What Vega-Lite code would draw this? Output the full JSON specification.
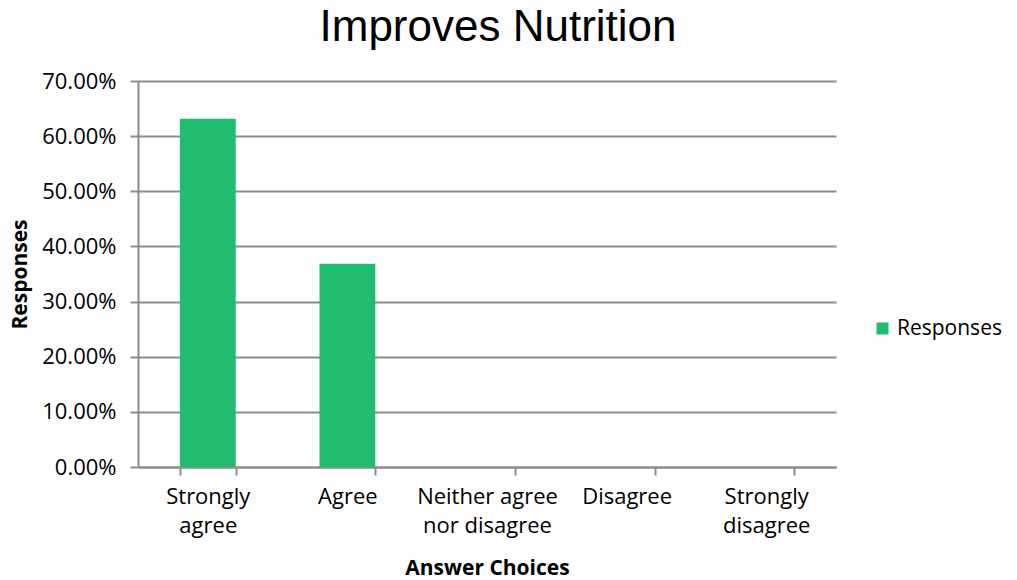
{
  "$schema": "https://vega.github.io/schema/vega-lite/v6.json",
  "width": 698,
  "height": 386,
  "autosize": {"type": "none"},
  "padding": {"left": 138, "top": 81, "right": 181, "bottom": 113},
  "background": "white",
  "title": {
    "text": "Improves Nutrition",
    "font": "Liberation Sans",
    "fontSize": 44,
    "fontWeight": "normal",
    "color": "#000000",
    "anchor": "middle",
    "dx": 11,
    "offset": 20
  },
  "data": {
    "values": [
      {"choice": "Strongly agree", "series": "Responses", "value": 0.6316},
      {"choice": "Agree", "series": "Responses", "value": 0.3684},
      {"choice": "Neither agree nor disagree", "series": "Responses", "value": 0},
      {"choice": "Disagree", "series": "Responses", "value": 0},
      {"choice": "Strongly disagree", "series": "Responses", "value": 0}
    ]
  },
  "mark": {"type": "bar"},
  "encoding": {
    "x": {
      "field": "choice",
      "type": "nominal",
      "sort": null,
      "scale": {"paddingInner": 0.6, "paddingOuter": 0.3},
      "axis": {
        "title": "Answer Choices",
        "titleFont": "Open Sans",
        "titleFontSize": 21,
        "titleFontWeight": "bold",
        "titleColor": "#000",
        "titlePadding": 21,
        "labelAngle": 0,
        "labelFont": "Open Sans",
        "labelFontSize": 22,
        "labelColor": "#000",
        "labelPadding": 11,
        "labelLineHeight": 29,
        "labelExpr": "datum.value == 'Strongly agree' ? ['Strongly', 'agree'] : datum.value == 'Neither agree nor disagree' ? ['Neither agree', 'nor disagree'] : datum.value == 'Strongly disagree' ? ['Strongly', 'disagree'] : datum.value",
        "tickBand": "extent",
        "ticks": true,
        "tickSize": 8,
        "tickColor": "#8c8c8c",
        "tickWidth": 2,
        "domainColor": "#8c8c8c",
        "domainWidth": 2,
        "grid": false
      }
    },
    "y": {
      "field": "value",
      "type": "quantitative",
      "scale": {"domain": [0, 0.7]},
      "axis": {
        "title": "Responses",
        "titleFont": "Open Sans",
        "titleFontSize": 21,
        "titleFontWeight": "bold",
        "titleColor": "#000",
        "titlePadding": 11,
        "format": ".2%",
        "values": [0, 0.1, 0.2, 0.3, 0.4, 0.5, 0.6, 0.7],
        "labelFont": "Open Sans",
        "labelFontSize": 22,
        "labelColor": "#000",
        "labelPadding": 14,
        "tickSize": 8,
        "tickColor": "#8c8c8c",
        "tickWidth": 2,
        "domainColor": "#8c8c8c",
        "domainWidth": 2,
        "gridColor": "#8c8c8c",
        "gridWidth": 2
      }
    },
    "color": {
      "field": "series",
      "type": "nominal",
      "scale": {"range": ["#20BD6F"]},
      "legend": {
        "title": null,
        "orient": "none",
        "legendX": 734,
        "legendY": 237,
        "symbolType": "square",
        "symbolSize": 144,
        "labelFont": "Open Sans",
        "labelFontSize": 21,
        "labelColor": "#000",
        "labelOffset": 4
      }
    }
  },
  "config": {"view": {"stroke": null}}
}
